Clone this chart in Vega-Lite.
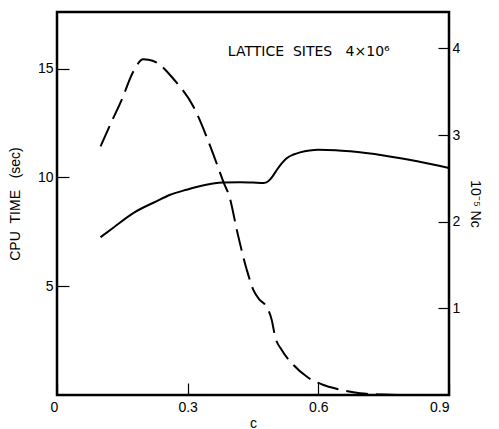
{
  "$schema": "https://vega.github.io/schema/vega-lite/v6.json",
  "width": 392,
  "height": 383,
  "autosize": "none",
  "padding": {"left": 57, "top": 12, "right": 50, "bottom": 34},
  "background": "white",
  "config": {
    "view": {"stroke": "black", "strokeWidth": 2.5},
    "font": "Liberation Sans",
    "axis": {
      "domain": false,
      "grid": false,
      "tickColor": "black",
      "tickWidth": 1.2,
      "labelColor": "black",
      "labelFont": "Liberation Sans",
      "labelFontSize": 14,
      "titleColor": "black",
      "titleFont": "Liberation Sans",
      "titleFontSize": 14,
      "titleFontWeight": "normal"
    }
  },
  "datasets": {
    "cpu": [
      {"c": 0.10, "t": 7.25},
      {"c": 0.13, "t": 7.7},
      {"c": 0.175, "t": 8.36},
      {"c": 0.228, "t": 8.9},
      {"c": 0.26, "t": 9.2},
      {"c": 0.297, "t": 9.43},
      {"c": 0.34, "t": 9.65},
      {"c": 0.38, "t": 9.76},
      {"c": 0.42, "t": 9.78},
      {"c": 0.45, "t": 9.76},
      {"c": 0.474, "t": 9.74},
      {"c": 0.485, "t": 9.82},
      {"c": 0.495, "t": 10.05},
      {"c": 0.505, "t": 10.35},
      {"c": 0.515, "t": 10.62},
      {"c": 0.528, "t": 10.89},
      {"c": 0.543, "t": 11.05},
      {"c": 0.558, "t": 11.15},
      {"c": 0.58, "t": 11.24},
      {"c": 0.60, "t": 11.27},
      {"c": 0.64, "t": 11.25},
      {"c": 0.673, "t": 11.2},
      {"c": 0.75, "t": 11.01},
      {"c": 0.827, "t": 10.74},
      {"c": 0.90, "t": 10.43}
    ],
    "nc": [
      {"c": 0.10, "n": 2.87},
      {"c": 0.125, "n": 3.15},
      {"c": 0.148, "n": 3.40},
      {"c": 0.175, "n": 3.73},
      {"c": 0.198, "n": 3.875},
      {"c": 0.21, "n": 3.87},
      {"c": 0.228, "n": 3.84},
      {"c": 0.267, "n": 3.65},
      {"c": 0.313, "n": 3.33},
      {"c": 0.355, "n": 2.83},
      {"c": 0.382, "n": 2.46},
      {"c": 0.397, "n": 2.27},
      {"c": 0.413, "n": 1.9},
      {"c": 0.436, "n": 1.44},
      {"c": 0.451, "n": 1.21},
      {"c": 0.465, "n": 1.1},
      {"c": 0.478, "n": 1.04},
      {"c": 0.493, "n": 0.865},
      {"c": 0.501, "n": 0.67},
      {"c": 0.516, "n": 0.52},
      {"c": 0.543, "n": 0.346},
      {"c": 0.574, "n": 0.21},
      {"c": 0.612, "n": 0.115},
      {"c": 0.643, "n": 0.07},
      {"c": 0.696, "n": 0.02},
      {"c": 0.75, "n": 0.005},
      {"c": 0.78, "n": 0.0}
    ],
    "note": [
      {"c": 0.578, "t": 15.74, "label": "LATTICE\u00a0\u00a0SITES\u00a0\u00a0\u00a04×10⁶"}
    ]
  },
  "layer": [
    {
      "data": {"name": "cpu"},
      "mark": {"type": "line", "color": "black", "strokeWidth": 2, "interpolate": "monotone"},
      "encoding": {
        "x": {
          "field": "c", "type": "quantitative",
          "scale": {"domain": [0, 0.9], "nice": false},
          "axis": {
            "values": [0, 0.3, 0.6, 0.9],
            "format": ".1~f",
            "tickSize": -12,
            "labelPadding": 17,
            "title": "c",
            "titlePadding": 2,
            "labelOffset": {"condition": {"test": "datum.value == 0", "value": -7}, "value": 0}
          }
        },
        "y": {
          "field": "t", "type": "quantitative",
          "scale": {"domain": [0, 17.6], "nice": false},
          "axis": {
            "orient": "left",
            "values": [5, 10, 15],
            "tickSize": -12,
            "labelPadding": 16,
            "title": "CPU\u00a0\u00a0TIME\u00a0\u00a0\u00a0(sec)",
            "titlePadding": 15
          }
        }
      }
    },
    {
      "data": {"name": "note"},
      "mark": {"type": "text", "color": "black", "fontSize": 14, "font": "DejaVu Sans"},
      "encoding": {
        "x": {"field": "c", "type": "quantitative", "scale": {"domain": [0, 0.9], "nice": false}},
        "y": {"field": "t", "type": "quantitative", "scale": {"domain": [0, 17.6], "nice": false}, "axis": null},
        "text": {"field": "label"}
      }
    },
    {
      "data": {"name": "nc"},
      "mark": {"type": "line", "color": "black", "strokeWidth": 2, "strokeDash": [22, 8], "interpolate": "monotone"},
      "encoding": {
        "x": {"field": "c", "type": "quantitative", "scale": {"domain": [0, 0.9], "nice": false}},
        "y": {
          "field": "n", "type": "quantitative",
          "scale": {"domain": [0, 4.42], "nice": false},
          "axis": {
            "orient": "right",
            "values": [1, 2, 3, 4],
            "tickSize": -11,
            "labelPadding": 14,
            "title": "10⁻⁵\u00a0Nc",
            "titlePadding": 8
          }
        }
      }
    }
  ],
  "resolve": {"scale": {"y": "independent"}}
}
